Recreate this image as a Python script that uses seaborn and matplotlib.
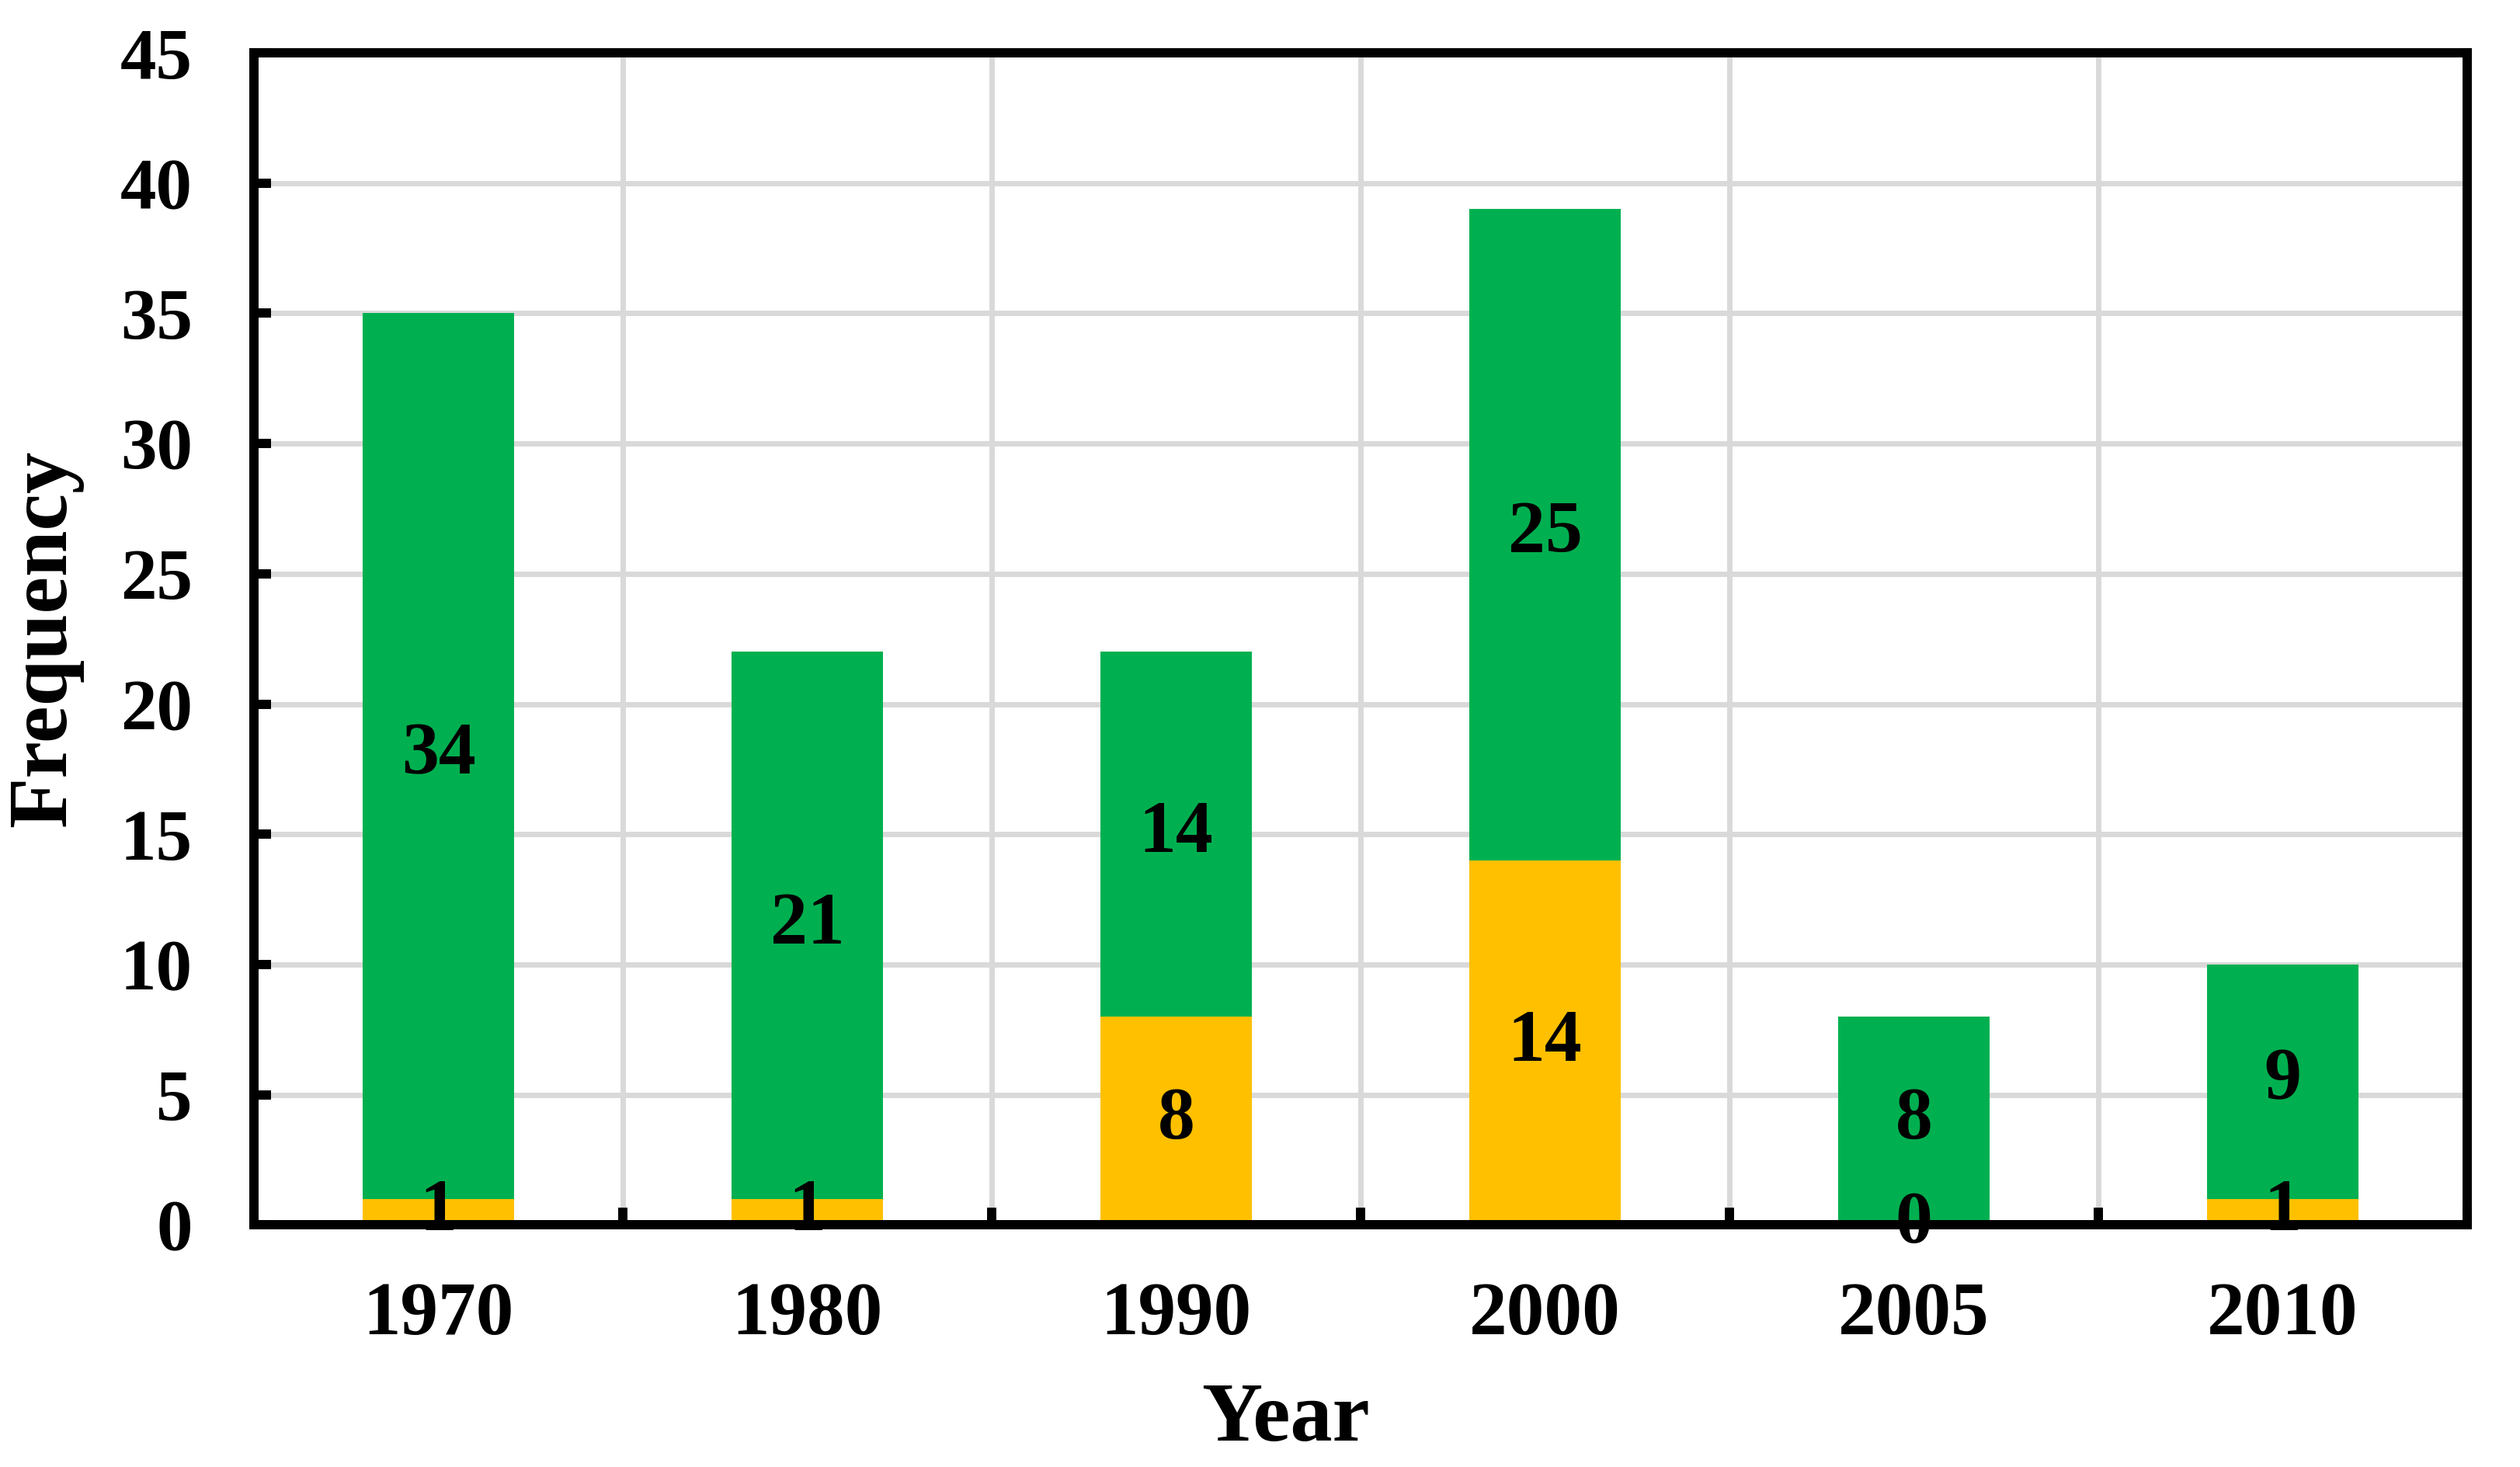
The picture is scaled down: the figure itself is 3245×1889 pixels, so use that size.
import numpy as np
import pandas as pd
import seaborn as sns
import matplotlib.pyplot as plt

# data
years = ["1970", "1980", "1990", "2000", "2005", "2010"]
yellow_vals = [1, 1, 8, 14, 0, 1]
green_vals = [34, 21, 14, 25, 8, 9]
y_ticks = [0, 5, 10, 15, 20, 25, 30, 35, 40, 45]

GREEN = "#00B050"
YELLOW = "#FFC000"
GRID = "#D9D9D9"

sns.set_theme(style="white")
plt.rcParams["font.family"] = ["Liberation Serif", "DejaVu Serif"]
plt.rcParams["font.weight"] = "bold"
for key in ["text.color", "axes.labelcolor", "xtick.color", "ytick.color"]:
    plt.rcParams[key] = "black"

df = pd.DataFrame({"Year": years, "yellow": yellow_vals, "green": green_vals})

fig = plt.figure(figsize=(32.45, 18.89), dpi=100)
ax = fig.add_axes([0.1008, 0.165, 0.8782, 0.799])

sns.barplot(data=df, x="Year", y="yellow", color=YELLOW, saturation=1,
            width=0.41, linewidth=0, ax=ax)
sns.barplot(data=df, x="Year", y="green", color=GREEN, saturation=1,
            width=0.41, linewidth=0, bottom=df["yellow"].to_numpy(), ax=ax)

# segment labels
for i, (yv, gv) in enumerate(zip(yellow_vals, green_vals)):
    ax.text(i, yv / 2, str(yv), ha="center", va="center",
            fontsize=69, fontweight="bold", color="black")
    ax.text(i, yv + gv / 2, str(gv), ha="center", va="center",
            fontsize=69, fontweight="bold", color="black")

ax.set_xlim(-0.5, len(years) - 0.5)
ax.set_ylim(0, 45)
ax.set_yticks(y_ticks)
ax.set_xticks(range(len(years)))
ax.set_xticklabels(years)
ax.set_xticks(np.arange(-0.5, len(years)), minor=True)

ax.set_axisbelow(True)
ax.grid(axis="y", which="major", color=GRID, linewidth=5)
ax.grid(axis="x", which="minor", color=GRID, linewidth=5)
ax.grid(axis="x", which="major", visible=False)

for sp in ax.spines.values():
    sp.set_visible(True)
    sp.set_color("black")
    sp.set_linewidth(8.6)

ax.tick_params(axis="y", which="major", direction="in", length=16, width=8.6,
               colors="black", labelsize=67, pad=57, left=True)
ax.tick_params(axis="x", which="major", length=0, labelsize=70, pad=52,
               colors="black")
ax.tick_params(axis="x", which="minor", direction="in", length=16, width=8.6,
               color="black", bottom=True)
for lab in ax.get_xticklabels() + ax.get_yticklabels():
    lab.set_fontweight("bold")

ax.set_xlabel("Year", fontsize=78, fontweight="bold", color="black")
ax.set_ylabel("Frequency", fontsize=77, fontweight="bold", color="black")
ax.xaxis.set_label_coords(0.466, -0.1345)
ax.yaxis.set_label_coords(-0.077, 0.5)

fig.savefig("out.png", dpi=100, facecolor="white")
